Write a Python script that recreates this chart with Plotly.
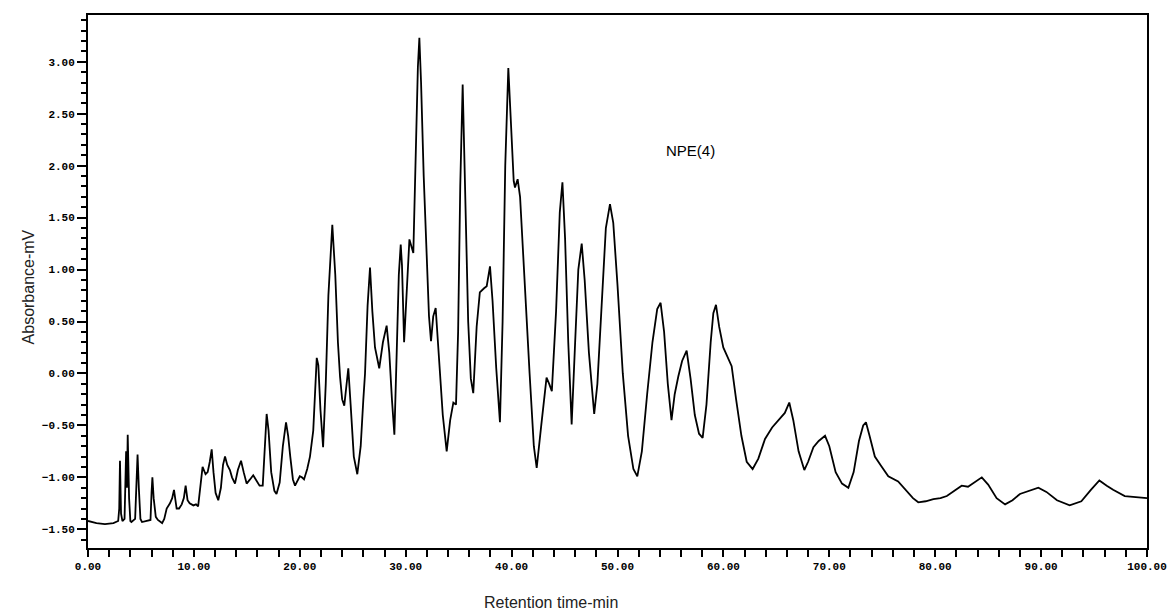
import plotly.graph_objects as go


# CHROMATOGRAM READINGS (RETENTION TIME IN MIN, ABSORBANCE IN MV)
time_min = [
    0.0, 0.8, 1.6, 2.4, 2.85, 2.95, 3.02, 3.12, 3.25, 3.45, 3.6, 3.68, 3.75, 3.88, 4.0, 4.1,
    4.45, 4.6, 4.68, 4.8, 4.95, 5.1, 5.5, 5.9, 6.0, 6.08, 6.2, 6.4, 6.6, 7.0, 7.2, 7.43,
    7.74, 7.95, 8.12, 8.37, 8.6, 8.85, 9.05, 9.22, 9.4, 9.6, 9.95, 10.2, 10.4, 10.6, 10.82,
    11.1, 11.3, 11.5, 11.68, 11.85, 12.05, 12.3, 12.55, 12.75, 12.94, 13.15, 13.4, 13.6,
    13.88, 14.15, 14.45, 14.7, 14.98, 15.3, 15.6, 15.9, 16.2, 16.5, 16.7, 16.87, 17.05,
    17.3, 17.6, 17.8, 18.1, 18.4, 18.7, 18.9, 19.1, 19.35, 19.55, 19.8, 20.0, 20.2, 20.4,
    20.7, 20.96, 21.27, 21.45, 21.6, 21.75, 21.95, 22.2, 22.45, 22.7, 23.07, 23.35, 23.6,
    23.8, 24.0, 24.2, 24.4, 24.58, 24.8, 25.1, 25.43, 25.75, 26.0, 26.16, 26.4, 26.63,
    26.85, 27.1, 27.5, 27.85, 28.2, 28.45, 28.7, 28.93, 29.15, 29.35, 29.53, 29.65, 29.85,
    30.1, 30.35, 30.72, 30.95, 31.15, 31.29, 31.45, 31.7, 31.98, 32.2, 32.39, 32.6, 32.83,
    33.1, 33.5, 33.87, 34.2, 34.5, 34.75, 34.95, 35.15, 35.38, 35.6, 35.9, 36.15, 36.38,
    36.7, 37.0, 37.4, 37.65, 37.96, 38.2, 38.55, 38.9, 39.15, 39.4, 39.69, 39.95, 40.2,
    40.32, 40.57, 40.8, 41.2, 41.7, 42.1, 42.37, 42.8, 43.3, 43.55, 43.8, 44.2, 44.55, 44.8,
    45.05, 45.35, 45.67, 46.0, 46.3, 46.62, 46.9, 47.3, 47.8, 48.1, 48.5, 48.9, 49.29, 49.6,
    50.0, 50.5, 51.0, 51.5, 51.87, 52.3, 52.8, 53.3, 53.75, 54.07, 54.4, 54.75, 55.1, 55.4,
    55.74, 56.1, 56.53, 56.9, 57.3, 57.7, 58.04, 58.4, 58.8, 59.05, 59.3, 59.6, 59.99, 60.4,
    60.78, 61.2, 61.7, 62.2, 62.76, 63.3, 63.93, 64.6, 65.34, 65.8, 66.22, 66.6, 67.1, 67.64,
    68.0, 68.5, 69.0, 69.6, 70.0, 70.6, 71.2, 71.8, 72.3, 72.8, 73.2, 73.46, 73.8, 74.3,
    74.9, 75.57, 76.5, 77.3, 77.9, 78.4, 79.1, 79.83, 80.5, 81.1, 81.8, 82.5, 83.1, 83.7,
    84.4, 85.0, 85.8, 86.6, 87.3, 88.0, 88.9, 89.74, 90.5, 91.5, 92.7, 93.8, 94.7, 95.5,
    96.2, 96.8, 97.9, 99.0, 100.0,
]
absorbance_mv = [
    -1.42, -1.44, -1.45, -1.44, -1.42, -1.30, -0.84, -1.35, -1.42, -1.40, -0.75, -1.10, -0.59, -1.20, -1.42, -1.43,
    -1.40, -1.00, -0.78, -1.10, -1.40, -1.43, -1.42, -1.41, -1.15, -1.00, -1.20, -1.38, -1.41, -1.44, -1.40, -1.30,
    -1.25, -1.20, -1.12, -1.30, -1.30, -1.26, -1.20, -1.08, -1.22, -1.25, -1.27, -1.26, -1.28, -1.10, -0.90,
    -0.97, -0.95, -0.85, -0.73, -0.95, -1.15, -1.22, -1.10, -0.88, -0.80, -0.88, -0.93, -1.00,
    -1.06, -0.93, -0.84, -0.95, -1.06, -1.02, -0.98, -1.03, -1.08, -1.08, -0.70, -0.39, -0.55,
    -0.95, -1.13, -1.16, -1.05, -0.70, -0.47, -0.60, -0.80, -1.02, -1.08, -1.03, -0.99, -1.00, -1.02,
    -0.92, -0.80, -0.55, -0.10, 0.15, 0.08, -0.35, -0.71, -0.10, 0.75, 1.43, 0.95, 0.30,
    -0.03, -0.25, -0.31, -0.10, 0.05, -0.30, -0.80, -0.97, -0.70, -0.25, 0.00, 0.65, 1.02,
    0.60, 0.25, 0.05, 0.30, 0.46, 0.20, -0.25, -0.59, 0.20, 0.95, 1.24, 1.04, 0.30,
    0.85, 1.29, 1.16, 2.10, 2.95, 3.23, 2.80, 1.90, 1.16, 0.55, 0.31, 0.55, 0.63,
    0.20, -0.40, -0.75, -0.45, -0.28, -0.30, 0.40, 1.80, 2.78, 1.70, 0.50, -0.05, -0.19,
    0.45, 0.78, 0.82, 0.84, 1.03, 0.70, 0.05, -0.47, 0.50, 2.00, 2.94, 2.40, 1.85,
    1.79, 1.87, 1.70, 0.90, 0.00, -0.70, -0.91, -0.50, -0.04, -0.10, -0.17, 0.60, 1.55, 1.84,
    1.30, 0.30, -0.49, 0.30, 1.00, 1.25, 0.90, 0.20, -0.39, -0.10, 0.70, 1.40, 1.63, 1.45,
    0.85, 0.00, -0.60, -0.92, -0.99, -0.75, -0.20, 0.30, 0.62, 0.68, 0.40, -0.10, -0.45, -0.20,
    -0.03, 0.12, 0.22, -0.05, -0.40, -0.58, -0.62, -0.30, 0.30, 0.58, 0.66, 0.45, 0.25, 0.15,
    0.07, -0.25, -0.60, -0.85, -0.92, -0.82, -0.63, -0.52, -0.43, -0.38, -0.28, -0.45, -0.75, -0.93,
    -0.85, -0.71, -0.65, -0.60, -0.70, -0.95, -1.06, -1.10, -0.95, -0.65, -0.50, -0.47, -0.60, -0.80,
    -0.89, -0.99, -1.04, -1.13, -1.20, -1.24, -1.23, -1.21, -1.20, -1.18, -1.13, -1.08, -1.09, -1.05,
    -1.00, -1.07, -1.20, -1.26, -1.22, -1.16, -1.13, -1.10, -1.14, -1.22, -1.27, -1.23, -1.12, -1.03,
    -1.08, -1.12, -1.18, -1.19, -1.20,
]
sample_label = "NPE(4)"

tick_font = dict(family="Liberation Mono, monospace", size=11, color="black", weight="bold")
text_font = dict(family="Liberation Sans, Arial, sans-serif", size=16, color="#222222")

# PLOT
fig = go.Figure()
fig.add_trace(go.Scatter(x=time_min, y=absorbance_mv, mode="lines",
                         line=dict(color="black", width=1.8), showlegend=False))

fig.update_xaxes(range=[0, 100], tickmode="linear", tick0=0, dtick=10, tickformat=".2f",
                 ticks="outside", ticklen=7, tickwidth=1.5, tickcolor="black",
                 minor=dict(dtick=2, ticks="outside", ticklen=7, tickwidth=1.5, tickcolor="black"),
                 showline=True, linecolor="black", linewidth=2, mirror=True, automargin=False,
                 showgrid=False, zeroline=False, tickfont=tick_font)
fig.update_yaxes(range=[-1.68, 3.45], tickmode="linear", tick0=0, dtick=0.5, tickformat=".2f",
                 ticks="outside", ticklen=9, tickwidth=1.5, tickcolor="black",
                 minor=dict(dtick=0.1, ticks="outside", ticklen=5, tickwidth=1.5, tickcolor="black"),
                 showline=True, linecolor="black", linewidth=2, mirror=True, automargin=False,
                 showgrid=False, zeroline=False, tickfont=tick_font)

fig.add_annotation(x=56.9, y=2.15, xref="x", yref="y", text=sample_label, showarrow=False,
                   font=dict(family="Liberation Sans, Arial, sans-serif", size=15, color="black"))
fig.add_annotation(x=-0.066, y=0.49, xref="paper", yref="paper", text="Absorbance-mV",
                   textangle=-90, showarrow=False, font=text_font)
fig.add_annotation(x=0.437, y=-0.103, xref="paper", yref="paper", text="Retention time-min",
                   yanchor="middle", showarrow=False, font=text_font)

fig.update_layout(width=1169, height=614, margin=dict(l=88, r=22, t=15, b=66),
                  plot_bgcolor="white", paper_bgcolor="white")

# drop the default body margin so the figure fills the window exactly
fig.write_html("out.html", config={"displayModeBar": False},
               post_script="document.body.style.margin='0';")
